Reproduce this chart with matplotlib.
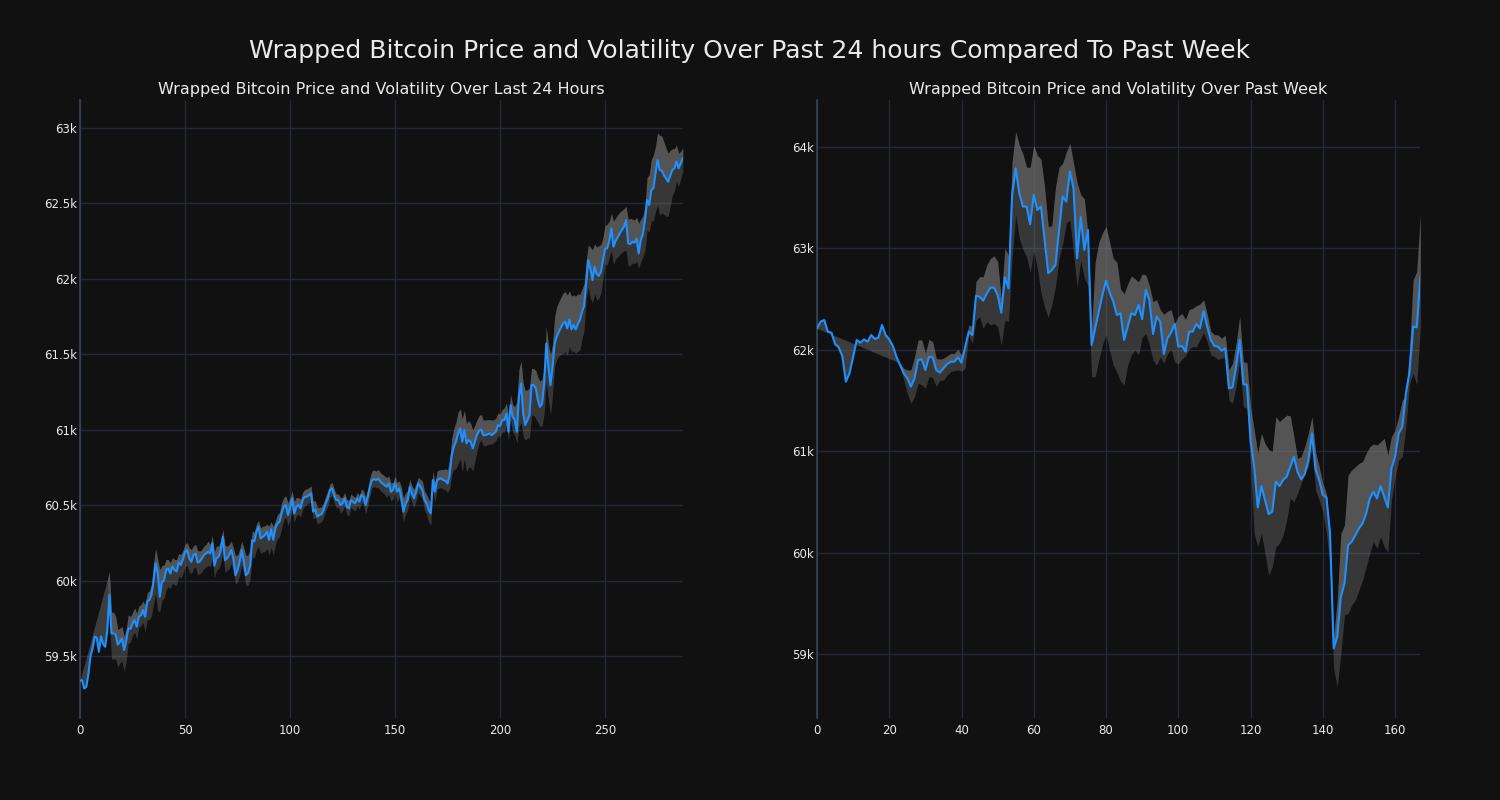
import matplotlib
matplotlib.use("Agg")
import matplotlib.pyplot as plt
from matplotlib.ticker import FuncFormatter, MultipleLocator
import numpy as np

# ---------------- data: last 24 hours (5-minute steps) ----------------
price_24h = [
    59336, 59340, 59285, 59295, 59380, 59500, 59550, 59628, 59620, 59528,
    59630, 59580, 59561, 59672, 59904, 59650, 59650, 59640, 59575, 59594,
    59617, 59539, 59600, 59683, 59680, 59716, 59738, 59694, 59760, 59770,
    59804, 59760, 59860, 59871, 59904, 59992, 60114, 60050, 59893, 59990,
    60003, 60070, 60080, 60047, 60092, 60070, 60060, 60120, 60103, 60140,
    60191, 60202, 60147, 60125, 60170, 60180, 60120, 60125, 60147, 60169,
    60180, 60191, 60180, 60246, 60100, 60150, 60158, 60202, 60291, 60135,
    60147, 60169, 60202, 60147, 60036, 60070, 60125, 60202, 60125, 60036,
    60050, 60100, 60268, 60260, 60324, 60357, 60279, 60290, 60302, 60324,
    60270, 60340, 60270, 60346, 60379, 60390, 60446, 60490, 60501, 60435,
    60479, 60545, 60445, 60490, 60501, 60479, 60534, 60556, 60556, 60567,
    60578, 60457, 60470, 60424, 60435, 60440, 60468, 60512, 60545, 60600,
    60611, 60567, 60534, 60534, 60500, 60512, 60545, 60490, 60479, 60534,
    60520, 60512, 60545, 60523, 60567, 60556, 60501, 60556, 60622, 60666,
    60673, 60666, 60677, 60655, 60644, 60633, 60622, 60644, 60589, 60600,
    60644, 60589, 60612, 60545, 60457, 60512, 60534, 60622, 60578, 60545,
    60589, 60644, 60622, 60600, 60534, 60512, 60468, 60446, 60666, 60590,
    60666, 60673, 60677, 60666, 60660, 60644, 60700, 60832, 60888, 60921,
    60976, 61009, 60921, 60998, 60910, 60932, 60921, 60876, 60921, 60965,
    60993, 61002, 60964, 60964, 60969, 60976, 60964, 60976, 60987, 61031,
    61024, 61064, 61064, 61108, 60987, 61163, 61086, 61064, 60987, 61219,
    61307, 61108, 61031, 61064, 61097, 61296, 61296, 61274, 61197, 61152,
    61174, 61307, 61572, 61418, 61296, 61418, 61572, 61617, 61650, 61679,
    61705, 61716, 61672, 61731, 61665, 61694, 61665, 61701, 61727, 61782,
    61820, 61970, 62125, 62070, 61992, 62081, 62032, 62019, 62047, 62125,
    62202, 62202, 62253, 62335, 62213, 62253, 62275, 62302, 62324, 62346,
    62390, 62235, 62231, 62246, 62240, 62268, 62169, 62257, 62297, 62390,
    62523, 62489, 62589, 62600, 62699, 62788, 62722, 62717, 62688, 62666,
    62644, 62682, 62722, 62733, 62777, 62733, 62766, 62799,
]
# distance of upper band edge above price
vol_up_24h = [
    0, 48, 154, 196, 162, 94, 96, 69, 129, 272,
    222, 324, 394, 335, 154, 140, 140, 120, 100, 90,
    80, 90, 80, 90, 80, 70, 80, 90, 70, 70,
    60, 80, 60, 60, 70, 120, 100, 90, 180, 110,
    100, 70, 60, 70, 60, 70, 80, 60, 70, 60,
    50, 50, 70, 80, 60, 60, 80, 70, 60, 60,
    60, 70, 60, 50, 90, 80, 70, 60, 50, 100,
    80, 70, 60, 70, 130, 100, 80, 60, 90, 130,
    120, 110, 60, 60, 50, 40, 70, 70, 60, 50,
    90, 50, 90, 50, 60, 60, 70, 60, 60, 80,
    70, 50, 80, 60, 50, 60, 50, 50, 50, 50,
    50, 70, 60, 60, 50, 50, 50, 50, 50, 40,
    40, 40, 40, 40, 50, 40, 40, 50, 50, 40,
    40, 40, 40, 40, 40, 40, 50, 50, 60, 60,
    60, 60, 60, 60, 60, 60, 60, 50, 60, 50,
    50, 60, 50, 70, 90, 70, 60, 50, 50, 60,
    50, 40, 50, 60, 60, 60, 70, 70, 60, 60,
    60, 60, 60, 70, 80, 90, 100, 110, 120, 130,
    140, 130, 150, 130, 130, 130, 120, 120, 110, 100,
    100, 100, 100, 100, 100, 90, 100, 90, 90, 80,
    80, 70, 80, 70, 100, 70, 80, 90, 200, 180,
    150, 200, 230, 200, 180, 110, 110, 120, 150, 170,
    160, 110, 110, 150, 200, 150, 180, 200, 200, 200,
    200, 200, 220, 190, 220, 200, 220, 200, 170, 150,
    150, 150, 100, 140, 200, 150, 180, 200, 180, 150,
    150, 160, 130, 100, 170, 150, 150, 140, 130, 120,
    90, 160, 170, 150, 150, 140, 200, 140, 120, 90,
    150, 200, 200, 220, 180, 180, 230, 230, 220, 200,
    190, 170, 140, 130, 110, 100, 80, 70,
]
# distance of lower band edge below price
vol_dn_24h = [
    0, -48, -154, -196, -162, -94, -96, -69, -129, -272,
    -222, -324, -394, -335, 150, 170, 170, 160, 150, 140,
    150, 140, 130, 100, 90, 80, 80, 80, 70, 70,
    80, 100, 120, 130, 140, 150, 200, 250, 100, 120,
    120, 130, 120, 100, 110, 100, 90, 90, 90, 90,
    100, 100, 90, 80, 90, 90, 80, 80, 90, 90,
    90, 90, 90, 100, 80, 80, 80, 90, 100, 80,
    80, 90, 90, 80, 60, 80, 90, 100, 80, 70,
    80, 90, 110, 110, 120, 130, 100, 100, 110, 110,
    100, 120, 100, 110, 100, 100, 100, 90, 80, 70,
    70, 80, 60, 60, 60, 60, 60, 60, 50, 50,
    60, 50, 50, 50, 50, 50, 50, 50, 50, 50,
    50, 50, 50, 50, 50, 50, 50, 50, 50, 50,
    50, 50, 50, 50, 50, 50, 60, 60, 60, 50,
    50, 50, 60, 60, 60, 60, 70, 70, 60, 60,
    60, 70, 60, 70, 70, 70, 70, 60, 60, 60,
    60, 60, 60, 60, 70, 70, 80, 80, 70, 70,
    60, 60, 60, 60, 60, 60, 90, 130, 150, 180,
    200, 200, 200, 190, 190, 180, 170, 150, 130, 110,
    80, 70, 70, 70, 70, 70, 60, 60, 60, 70,
    70, 80, 80, 80, 60, 100, 100, 100, 80, 200,
    260, 150, 100, 120, 150, 200, 200, 200, 150, 130,
    150, 200, 250, 220, 200, 180, 150, 150, 160, 180,
    200, 200, 180, 180, 150, 170, 160, 180, 200, 180,
    160, 100, 180, 200, 150, 180, 170, 150, 140, 120,
    100, 110, 110, 150, 120, 120, 130, 140, 150, 160,
    200, 150, 140, 140, 140, 150, 100, 140, 150, 200,
    200, 180, 200, 220, 250, 300, 300, 280, 260, 250,
    230, 200, 170, 150, 130, 120, 100, 90,
]

# ---------------- data: past week (hourly) ----------------
price_wk = [
    62212, 62278, 62294, 62179, 62169, 62057, 62025, 61939, 61686, 61770,
    61930, 62097, 62070, 62103, 62080, 62146, 62107, 62120, 62245, 62146,
    62103, 62038, 61932, 61850, 61768, 61719, 61637, 61719, 61900, 61906,
    61801, 61932, 61926, 61801, 61775, 61817, 61860, 61883, 61883, 61926,
    61873, 62025, 62179, 62146, 62531, 62524, 62485, 62557, 62613, 62613,
    62541, 62366, 62715, 62606, 63527, 63790, 63543, 63412, 63412, 63238,
    63527, 63379, 63412, 63083, 62755, 62788, 62837, 63182, 63511, 63461,
    63757, 63593, 62903, 63307, 62985, 63182, 62048, 62212, 62377, 62541,
    62682, 62564, 62475, 62344, 62360, 62097, 62229, 62360, 62344, 62442,
    62301, 62590, 62492, 62156, 62327, 62278, 61959, 62114, 62170, 62255,
    62031, 62038, 61982, 62179, 62179, 62255, 62212, 62383, 62229, 62097,
    62038, 62031, 61991, 62014, 61620, 61630, 61834, 62097, 61663, 61653,
    61110, 60847, 60446, 60657, 60519, 60381, 60404, 60700, 60657, 60716,
    60749, 60847, 60946, 60798, 60722, 60775, 60913, 61176, 60821, 60716,
    60568, 60545, 60190, 59056, 59171, 59566, 59697, 60075, 60108, 60174,
    60239, 60289, 60387, 60535, 60601, 60535, 60657, 60552, 60446, 60831,
    60946, 61176, 61242, 61571, 61784, 62228, 62221, 62714,
]
upper_wk = [
    62212, 62197, 62182, 62167, 62152, 62138, 62123, 62108, 62093, 62078,
    62063, 62048, 62033, 62018, 62004, 61989, 61974, 61959, 61944, 61929,
    61914, 61899, 61884, 61870, 61817, 61801, 61801, 61932, 62097, 62097,
    61965, 62103, 62080, 61916, 61906, 61916, 61940, 61965, 61965, 62005,
    61950, 62030, 62245, 62228, 62672, 62721, 62721, 62836, 62902, 62925,
    62869, 62500, 63001, 62930, 63850, 64150, 64015, 63930, 63800, 63800,
    64015, 63917, 63880, 63600, 63215, 63223, 63600, 63800, 63839, 63950,
    64034, 63839, 63645, 63527, 63488, 63137, 62200, 62864, 63060, 63150,
    63215, 63060, 62900, 62864, 62600, 62553, 62650, 62728, 62700, 62670,
    62747, 62740, 62630, 62474, 62494, 62396, 62350, 62380, 62396, 62260,
    62330, 62357, 62299, 62396, 62410, 62435, 62450, 62494, 62350, 62182,
    62150, 62146, 62113, 62146, 61801, 61866, 62064, 62327, 61883, 61873,
    61439, 61209, 60979, 61176, 61077, 61018, 60995, 61340, 61291, 61324,
    61357, 61347, 61143, 60930, 60946, 61045, 61176, 61341, 60995, 60847,
    60683, 60585, 60190, 59171, 59533, 60190, 60272, 60765, 60815, 60847,
    60880, 60897, 60979, 61045, 61071, 61061, 61094, 61127, 60962, 61143,
    61209, 61341, 61505, 61538, 61998, 62688, 62770, 63329,
]
lower_wk = [
    62212, 62197, 62182, 62167, 62152, 62138, 62123, 62108, 62093, 62078,
    62063, 62048, 62033, 62018, 62004, 61989, 61974, 61959, 61944, 61929,
    61914, 61899, 61884, 61870, 61702, 61570, 61472, 61540, 61670, 61655,
    61620, 61735, 61728, 61640, 61700, 61702, 61750, 61785, 61795, 61801,
    61790, 61820, 62146, 62064, 62294, 62327, 62212, 62280, 62245, 62260,
    62230, 62047, 62290, 62278, 62900, 63330, 63100, 62990, 62920, 62760,
    62980, 62800, 62560, 62420, 62320, 62450, 62620, 62900, 63050, 63250,
    63280, 62950, 62620, 62880, 62708, 62630, 61734, 61734, 61900, 62050,
    62150, 61990, 61850, 61780, 61690, 61655, 61850, 61950, 62000, 61948,
    62123, 62162, 62050, 61900, 61850, 61930, 61870, 61960, 62006, 61880,
    61860, 61910, 61940, 62010, 62030, 62030, 62100, 62170, 62080, 61950,
    61935, 61906, 61916, 61932, 61505, 61472, 61636, 61899, 61439, 61423,
    60847, 60190, 60059, 60190, 59993, 59779, 59861, 60059, 60091, 60174,
    60321, 60535, 60502, 60585, 60683, 60782, 60847, 61028, 60617, 60519,
    60404, 60190, 59861, 58859, 58678, 59007, 59385, 59401, 59484, 59533,
    59631, 59730, 59861, 59993, 60108, 60042, 60157, 60059, 60009, 60519,
    60749, 60913, 60946, 61242, 61669, 61768, 61653, 62228,
]

title_main = "Wrapped Bitcoin Price and Volatility Over Past 24 hours Compared To Past Week"
title_24h = "Wrapped Bitcoin Price and Volatility Over Last 24 Hours"
title_wk = "Wrapped Bitcoin Price and Volatility Over Past Week"

# ---------------- styling ----------------
BG = "#111111"
GRID = "#232a35"
TXT = "#eaeaea"
LINE = "#1e90ff"
BAND = "#808080"

fig = plt.figure(figsize=(15, 8), dpi=100, facecolor=BG)
ax1 = fig.add_axes([80 / 1500, 82 / 800, 603 / 1500, 618 / 800])
ax2 = fig.add_axes([817 / 1500, 82 / 800, 603 / 1500, 618 / 800])

kfmt = FuncFormatter(lambda v, p: f"{v / 1000:g}k")


def draw(ax, price, upper, lower, title, xmax, ylim, xstep, ystep):
    x = np.arange(len(price))
    p = np.asarray(price, float)
    u = np.asarray(upper, float)
    lo = np.asarray(lower, float)
    ax.set_facecolor(BG)
    ax.fill_between(x, lo, u, color=BAND, alpha=0.35, linewidth=0, zorder=2)
    ax.fill_between(x, p, u, color=BAND, alpha=0.4, linewidth=0, zorder=2)
    ax.plot(x, p, color=LINE, linewidth=1.5, zorder=3)
    ax.set_xlim(0, xmax)
    ax.set_ylim(*ylim)
    ax.xaxis.set_major_locator(MultipleLocator(xstep))
    ax.yaxis.set_major_locator(MultipleLocator(ystep))
    ax.yaxis.set_major_formatter(kfmt)
    ax.grid(True, color=GRID, linewidth=1.0, zorder=0)
    ax.set_axisbelow(True)
    for s in ["top", "right", "bottom"]:
        ax.spines[s].set_visible(False)
    ax.spines["left"].set_color("#3a4452")
    ax.spines["left"].set_linewidth(1.2)
    ax.tick_params(axis="y", colors=TXT, labelsize=8.5, length=0, pad=2)
    ax.tick_params(axis="x", colors=TXT, labelsize=8.5, length=0, pad=4)
    ax.set_title(title, color=TXT, fontsize=11.5, pad=4.5)


p24 = np.asarray(price_24h, float)
up24 = p24 + np.asarray(vol_up_24h, float)
lo24 = p24 - np.asarray(vol_dn_24h, float)

draw(ax1, price_24h, up24, lo24, title_24h, 287.1, (59089, 63186), 50, 500)
draw(ax2, price_wk, upper_wk, lower_wk, title_wk, 166.9, (58370, 64463), 20, 1000)

fig.suptitle(title_main, color=TXT, fontsize=18, y=0.951)

fig.savefig("out.png", dpi=100, facecolor=BG)
